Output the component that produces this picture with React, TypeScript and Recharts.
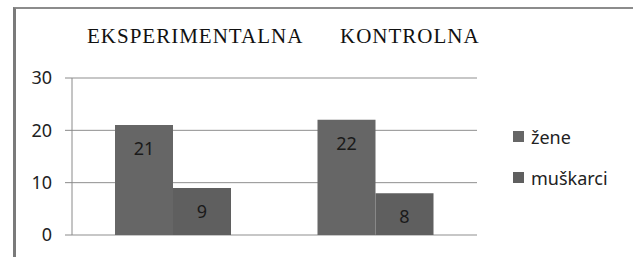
import { BarChart, Bar, XAxis, YAxis, CartesianGrid, LabelList } from "recharts";

const groups = ["EKSPERIMENTALNA", "KONTROLNA"];
const zene = [21, 22];
const muskarci = [9, 8];
const yTicks = [0, 10, 20, 30];
const seriesNames = ["žene", "muškarci"];
const seriesColors = ["#666666", "#5f5f5f"];

const data = groups.map((g, i) => ({ group: g, zene: zene[i], muskarci: muskarci[i] }));

const sans = "'Noto Sans', 'DejaVu Sans', sans-serif";
const serif = "'Liberation Serif', 'DejaVu Serif', serif";

export default function App() {
  return (
    <div style={{ position: "absolute", left: 0, top: 0, width: 633, height: 257, background: "#fff", overflow: "hidden" }}>
      {/* frame */}
      <div
        style={{
          position: "absolute",
          left: 13,
          top: 7,
          width: 617,
          height: 260,
          borderLeft: "3px solid #7a7a7a",
          borderTop: "2px solid #8c8c8c",
          borderRight: "1px solid #a0a0a0",
        }}
      />
      {/* group titles */}
      <div style={{ position: "absolute", left: 87, top: 24, fontFamily: serif, fontSize: 21, letterSpacing: 1, color: "#111", whiteSpace: "nowrap" }}>
        {groups[0]}
      </div>
      <div style={{ position: "absolute", left: 340, top: 24, fontFamily: serif, fontSize: 21, letterSpacing: 1, color: "#111", whiteSpace: "nowrap" }}>
        {groups[1]}
      </div>
      {/* legend */}
      <div style={{ position: "absolute", left: 513, top: 116, fontFamily: sans, fontSize: 18, color: "#222" }}>
        {seriesNames.map((name, i) => (
          <div key={name} style={{ display: "flex", alignItems: "center", height: 41 }}>
            <span style={{ width: 11, height: 11, background: seriesColors[i], marginRight: 7 }} />
            <span>{name}</span>
          </div>
        ))}
      </div>
      <BarChart
        width={633}
        height={257}
        data={data}
        margin={{ top: 78, right: 156, bottom: 22, left: 0 }}
        barGap={0}
        barSize={58}
        style={{ position: "absolute", left: 0, top: 0 }}
      >
        <CartesianGrid horizontal vertical={false} stroke="#8f8f8f" strokeWidth={1} />
        <XAxis dataKey="group" hide />
        <YAxis
          width={72}
          domain={[0, 30]}
          ticks={yTicks}
          interval={0}
          tickSize={7}
          tickMargin={13}
          axisLine={{ stroke: "#8a8a8a" }}
          tickLine={{ stroke: "#8a8a8a" }}
          tick={{ fontFamily: sans, fontSize: 18, fill: "#222" }}
        />
        <Bar dataKey="zene" fill={seriesColors[0]} isAnimationActive={false}>
          <LabelList dataKey="zene" position="insideTop" offset={17} fill="#1a1a1a" fontSize={18} fontFamily={sans} />
        </Bar>
        <Bar dataKey="muskarci" fill={seriesColors[1]} isAnimationActive={false}>
          <LabelList dataKey="muskarci" position="insideTop" offset={17} fill="#1a1a1a" fontSize={18} fontFamily={sans} />
        </Bar>
      </BarChart>
    </div>
  );
}
